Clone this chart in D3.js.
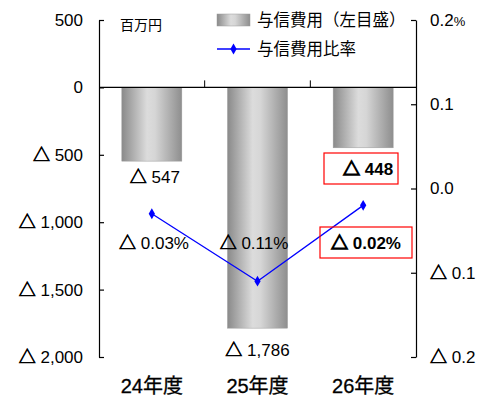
<!DOCTYPE html>
<html><head><meta charset="utf-8">
<script src="https://cdn.jsdelivr.net/npm/d3@7"></script>
<style>
body{margin:0;background:#fff;}
text{font-family:"Liberation Sans","Noto Sans CJK JP",sans-serif;fill:#000;}
.tri{font-family:"Noto Sans CJK JP",sans-serif;stroke:#000;stroke-width:0.7px;}
</style></head>
<body><svg id="c" width="492" height="399"></svg>
<script>
const categories = ["24年度","25年度","26年度"];
const costValues = [-547, -1786, -448];
const ratioValues = [-0.03, -0.11, -0.02];
const leftTicks = [500, 0, -500, -1000, -1500, -2000];
const rightTicks = [0.2, 0.1, 0.0, -0.1, -0.2];
const legendLabels = ["与信費用（左目盛）", "与信費用比率"];
const unitLabel = "百万円";

const svg = d3.select("#c");
const L = 99, R = 416, T = 20, B = 357;
const x = d3.scaleBand().domain(categories).range([L, R]).padding(0);
const yL = d3.scaleLinear().domain([-2000, 500]).range([B, T]);
const yR = d3.scaleLinear().domain([-0.2, 0.2]).range([B, T]);

const defs = svg.append("defs");
const g = defs.append("linearGradient").attr("id","bg").attr("x1","0").attr("x2","1").attr("y1","0").attr("y2","0");
g.append("stop").attr("offset","0").attr("stop-color","#8a8a8a");
g.append("stop").attr("offset","0.42").attr("stop-color","#dcdcdc");
g.append("stop").attr("offset","0.55").attr("stop-color","#d6d6d6");
g.append("stop").attr("offset","1").attr("stop-color","#8e8e8e");

const fmtL = v => v < 0 ? "△ " + d3.format(",")(-v) : d3.format(",")(v);
const fmtR = v => { const a = Math.abs(v).toFixed(1); return v < -1e-9 ? "△ " + a : a; };

function triText(sel, str) {
  sel.text(null);
  if (str.startsWith("△")) {
    sel.append("tspan").attr("class","tri").text("△");
    sel.append("tspan").text(str.slice(1));
  } else sel.text(str);
}

// bars
const bw = 60;
svg.selectAll("rect.bar").data(costValues).enter().append("rect")
  .attr("x",(d,i)=>x(categories[i]) + x.bandwidth()/2 - bw/2)
  .attr("y",yL(0)).attr("width",bw).attr("height",d=>yL(d)-yL(0))
  .attr("fill","url(#bg)").attr("stroke","#9a9a9a").attr("stroke-width",0.5);

// left axis
const axL = svg.append("g").attr("transform",`translate(${L},0)`)
  .call(d3.axisLeft(yL).tickValues(leftTicks).tickSizeInner(-5).tickSizeOuter(0).tickPadding(16).tickFormat(fmtL));
axL.selectAll("text").style("font-size","17px").each(function(){ const s=d3.select(this); triText(s, s.text()); });
// right axis
const axR = svg.append("g").attr("transform",`translate(${R},0)`)
  .call(d3.axisRight(yR).tickValues(rightTicks).tickSizeInner(-5).tickSizeOuter(0).tickPadding(14).tickFormat(fmtR));
axR.selectAll("text").style("font-size","17px").each(function(){ const s=d3.select(this); triText(s, s.text()); });
axR.selectAll(".tick").filter(d=>d===0.2).select("text").append("tspan").text("%").style("font-size","13px");
[axL, axR].forEach(a => { a.select(".domain").attr("stroke","#000").attr("stroke-width",1.2); a.selectAll("line").attr("stroke","#000").attr("stroke-width",1.2); });

// zero line with category separator ticks
svg.append("line").attr("x1",L).attr("x2",R).attr("y1",yL(0)).attr("y2",yL(0)).attr("stroke","#000").attr("stroke-width",1.2);
categories.slice(1).forEach(c => {
  svg.append("line").attr("x1",x(c)).attr("x2",x(c)).attr("y1",yL(0)).attr("y2",yL(0)-7).attr("stroke","#000").attr("stroke-width",1);
});

// ratio line
const line = d3.line().x((d,i)=>x(categories[i])+x.bandwidth()/2).y(d=>yR(d));
svg.append("path").datum(ratioValues).attr("d",line).attr("fill","none").attr("stroke","#0000ff").attr("stroke-width",1.3);
svg.selectAll("path.pt").data(ratioValues).enter().append("path")
  .attr("transform",(d,i)=>`translate(${x(categories[i])+x.bandwidth()/2},${yR(d)})`)
  .attr("d",d3.symbol().type(d3.symbolDiamond).size(34)).attr("fill","#0000ff");

// category labels
svg.selectAll("text.cat").data(categories).enter().append("text")
  .attr("x",d=>x(d)+x.bandwidth()/2).attr("y",393).attr("text-anchor","middle")
  .style("font-size","20px").style("stroke","#000").style("stroke-width","0.3px").text(d=>d);

// bar value labels
const barDy = [22, 28, 27];
costValues.forEach((v,i) => {
  const cx = x(categories[i]) + x.bandwidth()/2;
  const t = svg.append("text").attr("x",cx + (i===0?3:0)).attr("y",yL(v)+barDy[i]).attr("text-anchor","middle")
    .style("font-size","17px");
  triText(t, "△ " + d3.format(",")(-v));
  if (i === 2) {
    t.attr("x", cx+5).style("font-weight","bold");
    t.select(".tri").style("stroke-width","1.3px");
    svg.append("rect").attr("x",324).attr("y",153).attr("width",74).attr("height",31)
      .attr("fill","none").attr("stroke","#ff0000").attr("stroke-width",1.2);
  }
});

// ratio labels
const ratioX = [154, 254, 366];
ratioValues.forEach((v,i) => {
  const t = svg.append("text").attr("x",ratioX[i]).attr("y",249).attr("text-anchor","middle")
    .style("font-size","17px");
  triText(t, "△ " + (-v).toFixed(2) + "%");
  if (i === 2) {
    t.style("font-weight","bold");
    t.select(".tri").style("stroke-width","1.3px");
    svg.append("rect").attr("x",320).attr("y",227).attr("width",92).attr("height",31)
      .attr("fill","none").attr("stroke","#ff0000").attr("stroke-width",1.2);
  }
});

// unit label
svg.append("text").attr("x",120).attr("y",30).style("font-size","14px").text(unitLabel);

// legend
svg.append("rect").attr("x",217).attr("y",14).attr("width",33).attr("height",12).attr("fill","url(#bg)").attr("stroke","#9a9a9a").attr("stroke-width",0.5);
svg.append("text").attr("x",257).attr("y",26).style("font-size","16.5px").text(legendLabels[0]);
svg.append("line").attr("x1",217).attr("x2",250).attr("y1",49).attr("y2",49).attr("stroke","#0000ff").attr("stroke-width",1.3);
svg.append("path").attr("transform","translate(233.5,49)").attr("d",d3.symbol().type(d3.symbolDiamond).size(34)).attr("fill","#0000ff");
svg.append("text").attr("x",257).attr("y",55).style("font-size","16.5px").text(legendLabels[1]);
</script></body></html>
